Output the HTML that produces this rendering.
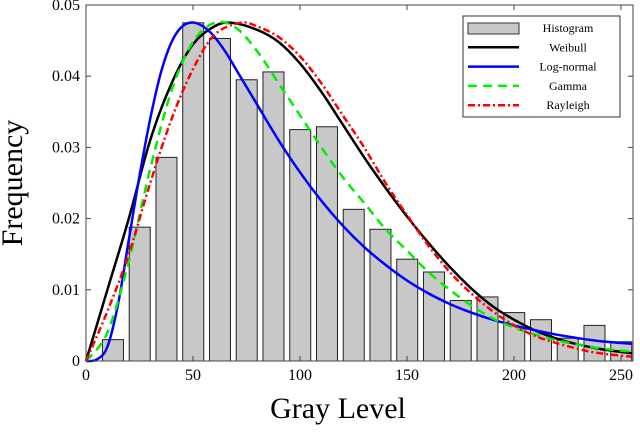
<!DOCTYPE html>
<html><head><meta charset="utf-8"><style>
body{margin:0;background:#fff}
svg text{font-family:"Liberation Serif",serif}
</style></head><body>
<svg id="c" width="640" height="427"></svg>
<script>
const binCenters=[12.6,25.1,37.6,50.1,62.6,75.1,87.6,100.1,112.6,125.1,137.6,150.1,162.6,175.1,187.6,200.1,212.6,225.1,237.6,250.1];
const histValues=[0.003,0.0188,0.0286,0.0475,0.0453,0.0395,0.0406,0.0325,0.0329,0.0213,0.0185,0.0143,0.0125,0.0085,0.009,0.0068,0.0058,0.0032,0.005,0.0027];
const weibullX=[0,10,20,30,40,50,60,68,80,90,100,110,120,130,140,150,160,170,180,190,200,212,225,240,255];
const weibullY=[0,0.010,0.020,0.031,0.039,0.0445,0.047,0.0475,0.0465,0.0448,0.0418,0.0378,0.0332,0.0286,0.0243,0.0203,0.0166,0.0132,0.0102,0.0077,0.0058,0.0040,0.0027,0.0017,0.0011];
const lognX=[0,5,10,15,20,25,30,35,40,45,51,58,65,72,80,90,100,110,120,130,140,150,160,170,180,190,200,210,220,230,240,255];
const lognY=[0,0.0002,0.002,0.008,0.017,0.026,0.034,0.0405,0.0448,0.0470,0.0475,0.0462,0.0435,0.040,0.036,0.031,0.0265,0.0225,0.019,0.016,0.0135,0.0113,0.0095,0.008,0.0068,0.0058,0.005,0.0043,0.0037,0.0032,0.0028,0.0024];
const gammaX=[0,10,20,30,40,50,60,70,80,90,100,110,120,130,140,150,160,170,180,190,200,210,220,230,240,255];
const gammaY=[0,0.004,0.014,0.027,0.038,0.0448,0.0475,0.0468,0.0435,0.039,0.0345,0.030,0.0258,0.0222,0.0185,0.0155,0.0125,0.010,0.0078,0.006,0.0047,0.0037,0.0029,0.0023,0.0018,0.0013];
const rayX=[0,10,20,30,40,50,60,72,80,90,100,110,120,130,140,150,160,170,180,190,200,210,220,230,240,255];
const rayY=[0,0.007,0.015,0.025,0.034,0.041,0.0458,0.0475,0.047,0.0455,0.0428,0.039,0.0345,0.030,0.025,0.0205,0.0162,0.0125,0.0095,0.007,0.005,0.0035,0.0025,0.0017,0.0011,0.0006];
const xTicks=[0,50,100,150,200,250];
const yTicks=[0,0.01,0.02,0.03,0.04,0.05];
const yTickLabels=["0","0.01","0.02","0.03","0.04","0.05"];

const L=86,R=633,T=5,B=361,XMAX=255.6,YMAX=0.05;
const sx=v=>L+v/XMAX*(R-L), sy=v=>B-v/YMAX*(B-T);
const svg=document.getElementById('c'), NS='http://www.w3.org/2000/svg';
function mk(tag,attrs,parent){const e=document.createElementNS(NS,tag);for(const k in attrs)e.setAttribute(k,attrs[k]);(parent||svg).appendChild(e);return e;}

const bars=mk('g',{});


const bw=21/(R-L)*XMAX;
binCenters.forEach((c,i)=>{
  const r=mk('rect',{x:sx(c-bw/2),y:sy(histValues[i]),width:sx(bw)-sx(0),height:B-sy(histValues[i]),fill:'#c8c8c8',stroke:'#222','stroke-width':1},bars);
  
  
});
function line(xs,ys,color,dash,name,w){
  const P=xs.map((x,i)=>[sx(x),sy(ys[i])]);
  let d='M'+P[0][0].toFixed(1)+','+P[0][1].toFixed(1);
  for(let i=0;i<P.length-1;i++){
    const p0=P[Math.max(0,i-1)],p1=P[i],p2=P[i+1],p3=P[Math.min(P.length-1,i+2)];
    const c1=[p1[0]+(p2[0]-p0[0])/6,p1[1]+(p2[1]-p0[1])/6];
    const c2=[p2[0]-(p3[0]-p1[0])/6,p2[1]-(p3[1]-p1[1])/6];
    d+='C'+c1[0].toFixed(1)+','+c1[1].toFixed(1)+' '+c2[0].toFixed(1)+','+c2[1].toFixed(1)+' '+p2[0].toFixed(1)+','+p2[1].toFixed(1);
  }
  const p=mk('path',{d:d,fill:'none',stroke:color,'stroke-width':w||2.5,'stroke-dasharray':dash||'none','stroke-linejoin':'round'});
  
  
}
line(weibullX,weibullY,'#000',null,'weibull-curve');
line(lognX,lognY,'#0000ff',null,'lognormal-curve');
line(gammaX,gammaY,'#00ee00','9 6','gamma-curve');
line(rayX,rayY,'#ff0000','7 3 2 3','rayleigh-curve');

const ax=mk('rect',{x:L,y:T,width:R-L,height:B-T,fill:'none',stroke:'#444','stroke-width':1});


xTicks.forEach(t=>{
  mk('line',{x1:sx(t),x2:sx(t),y1:B,y2:B-5,stroke:'#444'});
  mk('line',{x1:sx(t),x2:sx(t),y1:T,y2:T+5,stroke:'#444'});
  const tx=mk('text',{x:sx(t),y:B+19,'text-anchor':'middle','font-size':16});tx.textContent=t;
  
  
});
yTicks.forEach((t,i)=>{
  mk('line',{x1:L,x2:L+5,y1:sy(t),y2:sy(t),stroke:'#444'});
  mk('line',{x1:R,x2:R-5,y1:sy(t),y2:sy(t),stroke:'#444'});
  const tx=mk('text',{x:L-6,y:sy(t)+5,'text-anchor':'end','font-size':16});tx.textContent=yTickLabels[i];
  
  
});
const xt=mk('text',{x:338,y:418,'text-anchor':'middle','font-size':30});xt.textContent='Gray Level';


const yt=mk('text',{x:0,y:0,'text-anchor':'middle','font-size':30,transform:'translate(22,183) rotate(-90)'});yt.textContent='Frequency';



const lg=mk('g',{});


mk('rect',{x:463,y:16,width:157,height:101,fill:'#fff',stroke:'#333'},lg);
const names=['Histogram','Weibull','Log-normal','Gamma','Rayleigh'];
const cols=['#c8c8c8','#000','#0000ff','#00ee00','#ff0000'];
const dashes=[null,'none','none','9 6','7 3 2 3'];
names.forEach((n,i)=>{
  const y=28+i*19.3;
  if(i===0) mk('rect',{x:468,y:y-5,width:51,height:11,fill:'#c8c8c8',stroke:'#333'},lg);
  else mk('line',{x1:468,x2:519,y1:y,y2:y,stroke:cols[i],'stroke-width':2.5,'stroke-dasharray':dashes[i]},lg);
  const t=mk('text',{x:568,y:y+4,'text-anchor':'middle','font-size':12},lg);t.textContent=n;
  
  
});
</script>
</body></html>
